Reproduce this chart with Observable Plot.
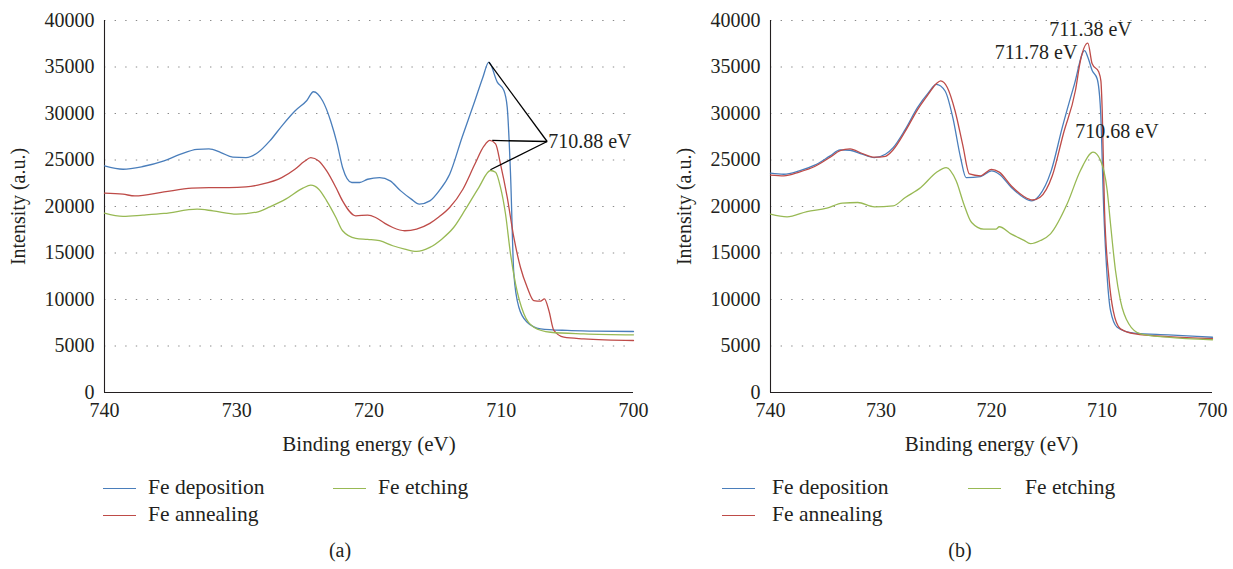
<!DOCTYPE html>
<html>
<head>
<meta charset="utf-8">
<script src="https://cdn.jsdelivr.net/npm/d3@7"></script>
<script src="https://cdn.jsdelivr.net/npm/@observablehq/plot@0.6"></script>
<style>
  html, body { margin: 0; padding: 0; background: #fff; }
  body { width: 1233px; height: 569px; position: relative; overflow: hidden; font-family: "Liberation Serif", "Times New Roman", serif; color: #231f20; }
  svg, svg text { font-family: "Liberation Serif", "Times New Roman", serif !important; }
  .panel { position: absolute; top: 0; }
  .leg { position: absolute; font-size: 21.5px; line-height: 24px; white-space: nowrap; }
  .sw { position: absolute; height: 0; border-top: 1.5px solid; width: 33px; }
  .cap { position: absolute; font-size: 20px; line-height: 22px; transform: translateX(-50%); }
</style>
</head>
<body>
<div id="pa" class="panel" style="left:0px"></div>
<div id="pb" class="panel" style="left:650px"></div>

<div class="sw" style="left:103px; top:488px; border-color:#4a7ebb"></div>
<div class="leg" style="left:148px; top:475px">Fe deposition</div>
<div class="sw" style="left:333px; top:488px; border-color:#98b954"></div>
<div class="leg" style="left:378px; top:475px">Fe etching</div>
<div class="sw" style="left:103px; top:515px; border-color:#be4b48"></div>
<div class="leg" style="left:148px; top:502px">Fe annealing</div>
<div class="cap" style="left:340px; top:539px">(a)</div>

<div class="sw" style="left:722px; top:488px; border-color:#4a7ebb"></div>
<div class="leg" style="left:772px; top:475px">Fe deposition</div>
<div class="sw" style="left:968px; top:488px; border-color:#98b954"></div>
<div class="leg" style="left:1025px; top:475px">Fe etching</div>
<div class="sw" style="left:722px; top:515px; border-color:#be4b48"></div>
<div class="leg" style="left:772px; top:502px">Fe annealing</div>
<div class="cap" style="left:960px; top:539px">(b)</div>

<script>
// ---------- shared ----------
const seriesNames = ["Fe deposition", "Fe annealing", "Fe etching"];
const seriesColors = ["#4a7ebb", "#be4b48", "#98b954"];
const xTicks = [740, 730, 720, 710, 700];
const yTicks = [0, 5000, 10000, 15000, 20000, 25000, 30000, 35000, 40000];
const xTitle = "Binding energy (eV)";
const yTitle = "Intensity (a.u.)";
const FONT = "'Liberation Serif', 'Times New Roman', serif";

// ---------- panel (a) ----------
const aDepE = [740, 738.6, 737.1, 735.5, 734.3, 733.0, 732.1, 731.2, 730.3, 729.3, 728.4, 727.5, 726.6, 725.6, 724.7, 724.2, 723.5, 722.9, 722.4, 722.0, 721.3, 720.7, 720.1, 719.2, 718.4, 717.6, 716.8, 716.2, 715.4, 714.7, 713.9, 712.96, 712.0, 711.4, 710.94, 710.3, 709.8, 709.55, 709.3, 709.05, 708.67, 708.04, 707.03, 705.0, 703.0, 700];
const aDepI = [24365, 24007, 24300, 24900, 25600, 26150, 26200, 25800, 25300, 25250, 25800, 27050, 28650, 30270, 31400, 32340, 31340, 29200, 26700, 24200, 22580, 22580, 22930, 23100, 22750, 21680, 20790, 20250, 20600, 21680, 23470, 27450, 31340, 33850, 35520, 33370, 32470, 30680, 23550, 12800, 9170, 7560, 6850, 6670, 6600, 6560];

const aAnnE = [740, 738.6, 737.7, 735.5, 733.4, 732.1, 730.6, 729.3, 728.1, 726.6, 725.6, 724.9, 724.4, 723.8, 723.2, 722.5, 722.0, 721.0, 720.1, 719.5, 718.8, 718.2, 717.3, 716.4, 715.4, 714.7, 713.9, 712.9, 712.0, 711.3, 710.86, 710.43, 710.06, 709.55, 709.05, 708.55, 708.04, 707.54, 707.03, 706.73, 706.4, 706.02, 705.27, 703.76, 700];
const aAnnI = [21430, 21320, 21140, 21570, 21970, 22040, 22040, 22110, 22400, 23110, 24010, 24830, 25260, 24900, 23830, 22040, 20610, 19000, 19070, 18820, 18180, 17740, 17390, 17570, 18180, 18890, 19890, 21860, 24540, 26510, 27100, 26740, 24590, 21000, 16700, 13470, 11320, 9890, 9820, 10070, 8820, 6670, 5950, 5770, 5590];

const aEtcE = [740, 738.6, 737.1, 735.5, 733.0, 731.8, 730.0, 728.4, 727.5, 726.3, 725.0, 724.4, 723.8, 723.2, 722.5, 722.0, 721.0, 720.1, 719.2, 718.2, 717.3, 716.4, 715.4, 714.5, 713.6, 712.7, 711.7, 710.82, 710.43, 710.06, 709.68, 709.30, 708.92, 708.29, 707.54, 706.28, 703.76, 700];
const aEtcI = [19280, 18930, 19070, 19250, 19710, 19530, 19180, 19430, 19960, 20790, 21970, 22290, 21860, 20610, 18820, 17390, 16570, 16460, 16320, 15780, 15420, 15170, 15600, 16490, 17740, 19710, 22040, 23870, 23690, 22080, 19220, 14910, 11690, 8460, 7020, 6480, 6310, 6200];

const aPeakE = [710.94, 710.68, 710.82];
const aPeakI = [35520, 27100, 23950];
const aLabel = "710.88 eV";
const aLabelE = 706.53;
const aLabelI = 26990;

// ---------- panel (b) ----------
const bDepE = [740, 738.8, 737.4, 736.0, 734.6, 733.7, 732.8, 731.7, 730.6, 729.6, 728.9, 727.8, 726.7, 725.7, 725.0, 724.2, 723.5, 722.8, 722.3, 721.0, 720.0, 719.3, 718.2, 717.1, 716.4, 715.7, 714.6, 713.6, 712.5, 711.58, 711.28, 710.89, 710.44, 710.13, 709.84, 709.53, 709.23, 708.63, 707.12, 704.0, 700];
const bDepI = [23580, 23470, 23830, 24440, 25440, 26080, 26050, 25620, 25260, 25620, 26330, 28300, 30630, 32240, 33130, 32420, 29550, 25260, 23110, 23220, 23830, 23470, 22040, 20970, 20610, 21150, 23830, 28480, 33130, 36770, 36060, 34620, 33730, 30320, 19570, 12400, 8820, 7020, 6380, 6190, 5940];

const bAnnE = [740, 738.8, 737.4, 736.0, 734.6, 733.7, 732.8, 731.7, 730.6, 729.6, 728.9, 727.8, 726.7, 725.7, 725.0, 724.6, 724.0, 723.3, 722.6, 722.0, 721.0, 720.0, 719.3, 718.2, 717.1, 716.3, 715.6, 714.5, 713.5, 712.4, 711.95, 711.28, 710.89, 710.29, 710.1, 709.98, 709.77, 709.38, 708.99, 708.33, 707.0, 704.0, 700];
const bAnnI = [23380, 23300, 23700, 24300, 25300, 26000, 26200, 25700, 25300, 25400, 26100, 28100, 30400, 32100, 33200, 33500, 32800, 30300, 26600, 23500, 23300, 24000, 23700, 22200, 21100, 20700, 21000, 23300, 27800, 32500, 35700, 37560, 35340, 34450, 33500, 30320, 19570, 12400, 8820, 6840, 6300, 6000, 5800];

const bEtcE = [740, 738.5, 736.7, 734.9, 733.5, 732.1, 730.6, 728.9, 727.8, 726.4, 725.0, 724.1, 723.2, 722.5, 721.8, 720.7, 719.6, 719.3, 718.2, 717.1, 716.47, 715.57, 714.66, 713.15, 711.95, 710.8, 710.13, 709.53, 709.23, 708.78, 708.33, 707.58, 706.52, 704.1, 700];
const bEtcI = [19180, 18890, 19460, 19820, 20360, 20430, 19960, 20070, 20970, 22040, 23650, 24190, 22760, 20250, 18280, 17570, 17570, 17820, 17030, 16390, 16000, 16340, 17060, 20290, 23870, 25840, 24950, 21720, 18140, 13120, 9890, 7390, 6310, 5950, 5670];

const bLabels = ["711.38 eV", "711.78 eV", "710.68 eV"];
const bLabelE = [711.04, 715.97, 708.64];
const bLabelI = [39050, 36560, 28070];

// ---------- build ----------
function rows(E, I, name) { return E.map((e, i) => ({ e, v: I[i], s: name })); }

function panel(series, extra, opts) {
  const marks = [
    Plot.ruleY(yTicks.filter(d => d > 0), { stroke: "#8a8a8a", strokeWidth: 1.1, strokeDasharray: "1.4,9.2" }),
    Plot.ruleX([740], { stroke: "#231f20", strokeWidth: 1.1 }),
    Plot.ruleY([0], { stroke: "#231f20", strokeWidth: 1.1 }),
    Plot.axisX({ ticks: xTicks, tickSize: 0, tickPadding: 10, fontSize: 20, fontFamily: FONT, tickFormat: d => String(d), label: null }),
    Plot.axisX({ ticks: [], tickSize: 0, fontSize: 21, fontFamily: FONT, label: xTitle, labelAnchor: "center", labelOffset: 58, labelArrow: "none" }),
    Plot.axisY({ ticks: yTicks, tickSize: 0, tickPadding: 10, fontSize: 20, fontFamily: FONT, tickFormat: d => String(d), label: null }),
    Plot.axisY({ ticks: [], tickSize: 0, fontSize: 20, fontFamily: FONT, label: yTitle, labelAnchor: "center", labelOffset: opts.yLabelOffset, labelArrow: "none" }),
  ];
  series.forEach((d, k) => {
    marks.push(Plot.line(d, { x: "e", y: "v", stroke: seriesColors[k], strokeWidth: 1.3, curve: "monotone-x" }));
  });
  return Plot.plot({
    width: opts.width, height: 460,
    marginLeft: opts.ml, marginRight: opts.mr, marginTop: 20, marginBottom: 68,
    style: { fontFamily: FONT, fontSize: "20px", color: "#231f20", background: "white", overflow: "visible" },
    x: { domain: [740, 700], label: null },
    y: { domain: [0, 40000], label: null },
    marks: marks.concat(extra)
  });
}

const aSeries = [rows(aDepE, aDepI, seriesNames[0]), rows(aAnnE, aAnnI, seriesNames[1]), rows(aEtcE, aEtcI, seriesNames[2])];
const bSeries = [rows(bDepE, bDepI, seriesNames[0]), rows(bAnnE, bAnnI, seriesNames[1]), rows(bEtcE, bEtcI, seriesNames[2])];

const aLinks = aPeakE.map((e, i) => ({ x1: aLabelE, y1: aLabelI, x2: e, y2: aPeakI[i] }));
const aExtra = [
  Plot.link(aLinks, { x1: "x1", y1: "y1", x2: "x2", y2: "y2", stroke: "#000", strokeWidth: 1.3 }),
  Plot.text([{ e: aLabelE, v: aLabelI, t: aLabel }], { x: "e", y: "v", text: "t", textAnchor: "start", dx: 1, fontSize: 20, fontFamily: FONT, fill: "#231f20" })
];
const bExtra = [
  Plot.text(bLabels.map((t, i) => ({ t, e: bLabelE[i], v: bLabelI[i] })), { x: "e", y: "v", text: "t", textAnchor: "middle", fontSize: 20, fontFamily: FONT, fill: "#231f20" })
];

document.getElementById("pa").append(panel(aSeries, aExtra, { width: 650, ml: 104, mr: 17, yLabelOffset: 94 }));
document.getElementById("pb").append(panel(bSeries, bExtra, { width: 583, ml: 120, mr: 21, yLabelOffset: 94 }));
</script>
</body>
</html>
